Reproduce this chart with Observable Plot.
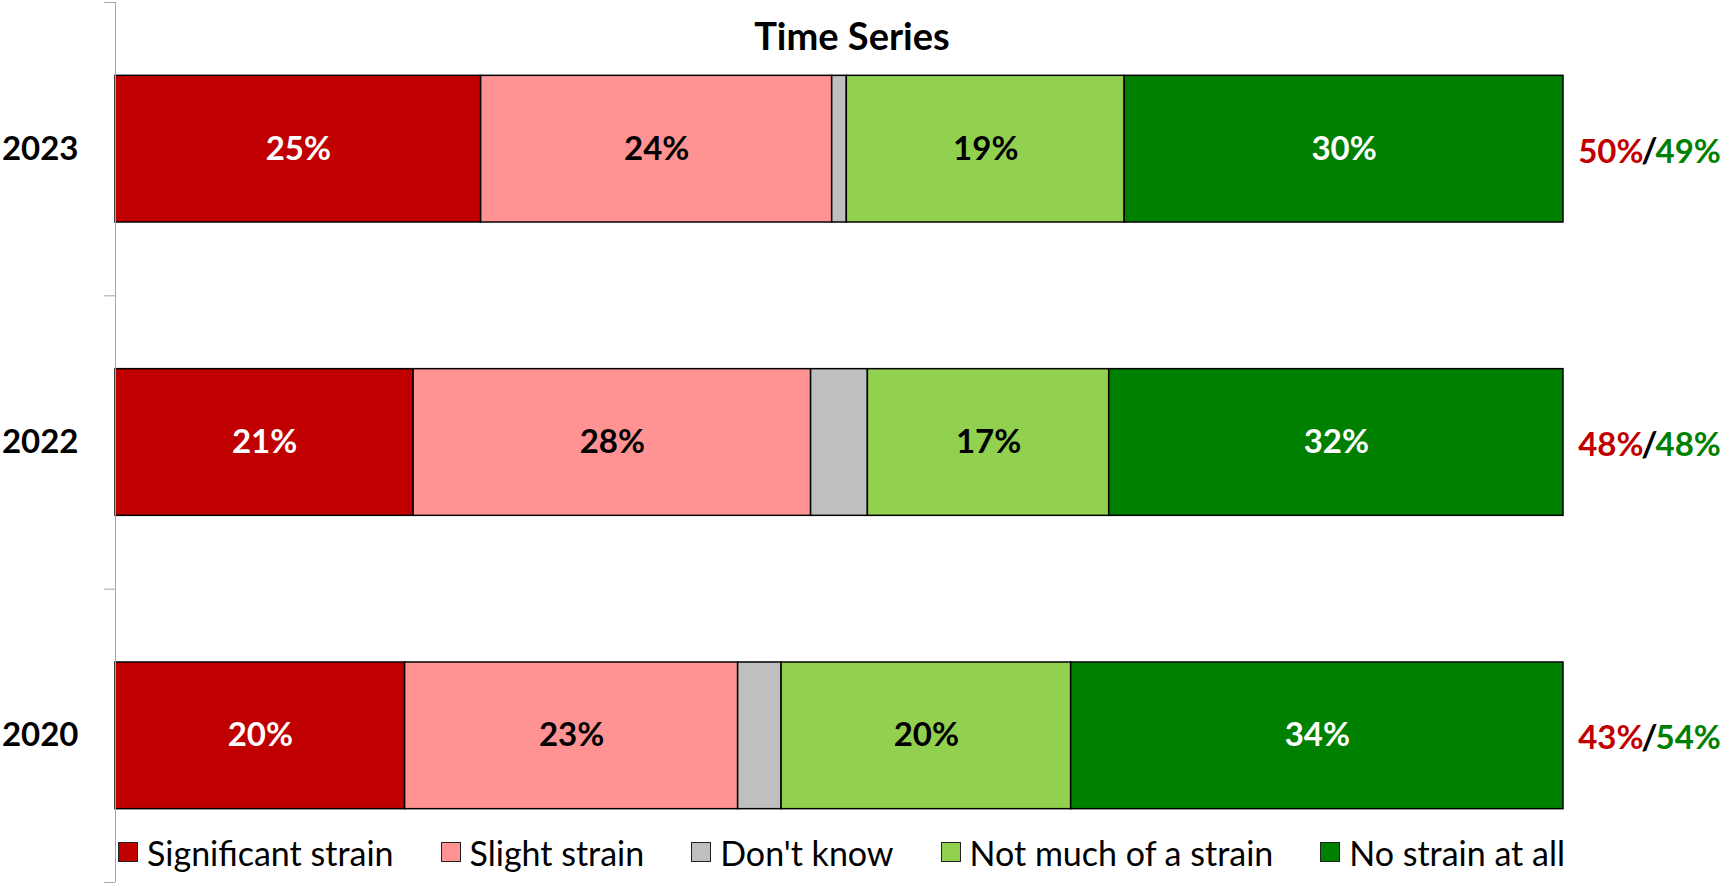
<!DOCTYPE html>
<html>
<head>
<meta charset="utf-8">
<script src="https://cdn.jsdelivr.net/npm/d3@7"></script>
<script src="https://cdn.jsdelivr.net/npm/@observablehq/plot@0.6"></script>
<style>
  html, body { margin: 0; padding: 0; background: #fff; overflow: hidden; }
  #wrap { position: relative; width: 1729px; height: 886px; font-family: Lato, "Open Sans", sans-serif; }
  #title { position: absolute; top: 16px; left: 652px; width: 400px; text-align: center;
           font-size: 38px; font-weight: bold; line-height: 38px; color: #000; }
  #legend { position: absolute; top: 835px; left: 118px; width: 1447px; height: 34px;
            display: flex; justify-content: space-between; align-items: center;
            font-size: 34px; color: #000; }
  .item { display: flex; align-items: center; white-space: nowrap; }
  .sw { width: 18px; height: 18px; border: 1.5px solid #222; margin-right: 9px; }
</style>
</head>
<body>
<div id="wrap">
  <div id="chart"></div>
  <div id="title">Time Series</div>
  <div id="legend"></div>
</div>
<script>
const years = ["2023", "2022", "2020"];
const categories = ["Significant strain", "Slight strain", "Don't know", "Not much of a strain", "No strain at all"];
const colors = ["#C00000", "#FF9393", "#BFBFBF", "#92D050", "#008000"];
const significant = [25, 21, 20];
const slight = [24, 28, 23];
const dontKnow = [1, 4, 3];
const notMuch = [19, 17, 20];
const noStrain = [30, 32, 34];
const netStrain = [50, 48, 43];
const netNoStrain = [49, 48, 54];

const series = [significant, slight, dontKnow, notMuch, noStrain];
const rows = years.flatMap((year, i) =>
  series.map((vals, k) => ({year, i, cat: categories[k], value: vals[i]})));

const whiteCats = new Set(["Significant strain", "No strain at all"]);
const blackCats = new Set(["Slight strain", "Not much of a strain"]);
const idx = years.map((d, i) => i);

const chart = Plot.plot({
  width: 1729,
  height: 886,
  marginLeft: 115,
  marginRight: 166,
  marginTop: 2,
  marginBottom: 4,
  style: {fontFamily: "Lato, 'Open Sans', sans-serif", background: "white"},
  x: {domain: [0, 1], axis: null},
  y: {domain: [-0.5, 2.5], reverse: true, axis: null},
  color: {domain: categories, range: colors},
  marks: [
    Plot.rectX(rows, Plot.stackX({
      x: "value", y1: d => d.i - 0.25, y2: d => d.i + 0.25,
      fill: "cat", stroke: "black", strokeWidth: 1.5, offset: "normalize"
    })),
    Plot.text(rows, Plot.stackX({
      x: "value", y: "i", offset: "normalize",
      text: d => whiteCats.has(d.cat) ? d.value + "%" : "",
      fill: "white", fontSize: 33, fontWeight: "bold"
    })),
    Plot.text(rows, Plot.stackX({
      x: "value", y: "i", offset: "normalize",
      text: d => blackCats.has(d.cat) ? d.value + "%" : "",
      fill: "black", fontSize: 33, fontWeight: "bold"
    })),
    Plot.ruleX([0], {stroke: "#A6A6A6", strokeWidth: 1}),
    Plot.axisY({ticks: [-0.5, 0.5, 1.5, 2.5], tickSize: 11, tickFormat: () => "", label: null, stroke: "#A6A6A6"}),
    Plot.axisY({ticks: idx, tickFormat: i => years[i], tickSize: 0, tickPadding: 37, label: null,
                fontSize: 33, fontWeight: "bold", fill: "black"}),
    Plot.text(idx, {y: d => d, text: d => netStrain[d] + "%", frameAnchor: "right",
                    textAnchor: "end", dx: 80, dy: 3, fill: "#C00000", fontSize: 33, fontWeight: "bold"}),
    Plot.text(idx, {y: d => d, text: () => "/", frameAnchor: "right",
                    textAnchor: "middle", dx: 86, dy: 3, fill: "black", fontSize: 35, fontWeight: "bold"}),
    Plot.text(idx, {y: d => d, text: d => netNoStrain[d] + "%", frameAnchor: "right",
                    textAnchor: "start", dx: 92, dy: 3, fill: "#008000", fontSize: 33, fontWeight: "bold"})
  ]
});
document.getElementById("chart").appendChild(chart);

const legend = document.getElementById("legend");
categories.forEach((c, k) => {
  const item = document.createElement("div");
  item.className = "item";
  const sw = document.createElement("div");
  sw.className = "sw";
  sw.style.background = colors[k];
  const label = document.createElement("span");
  label.textContent = c;
  item.appendChild(sw);
  item.appendChild(label);
  legend.appendChild(item);
});
</script>
</body>
</html>
